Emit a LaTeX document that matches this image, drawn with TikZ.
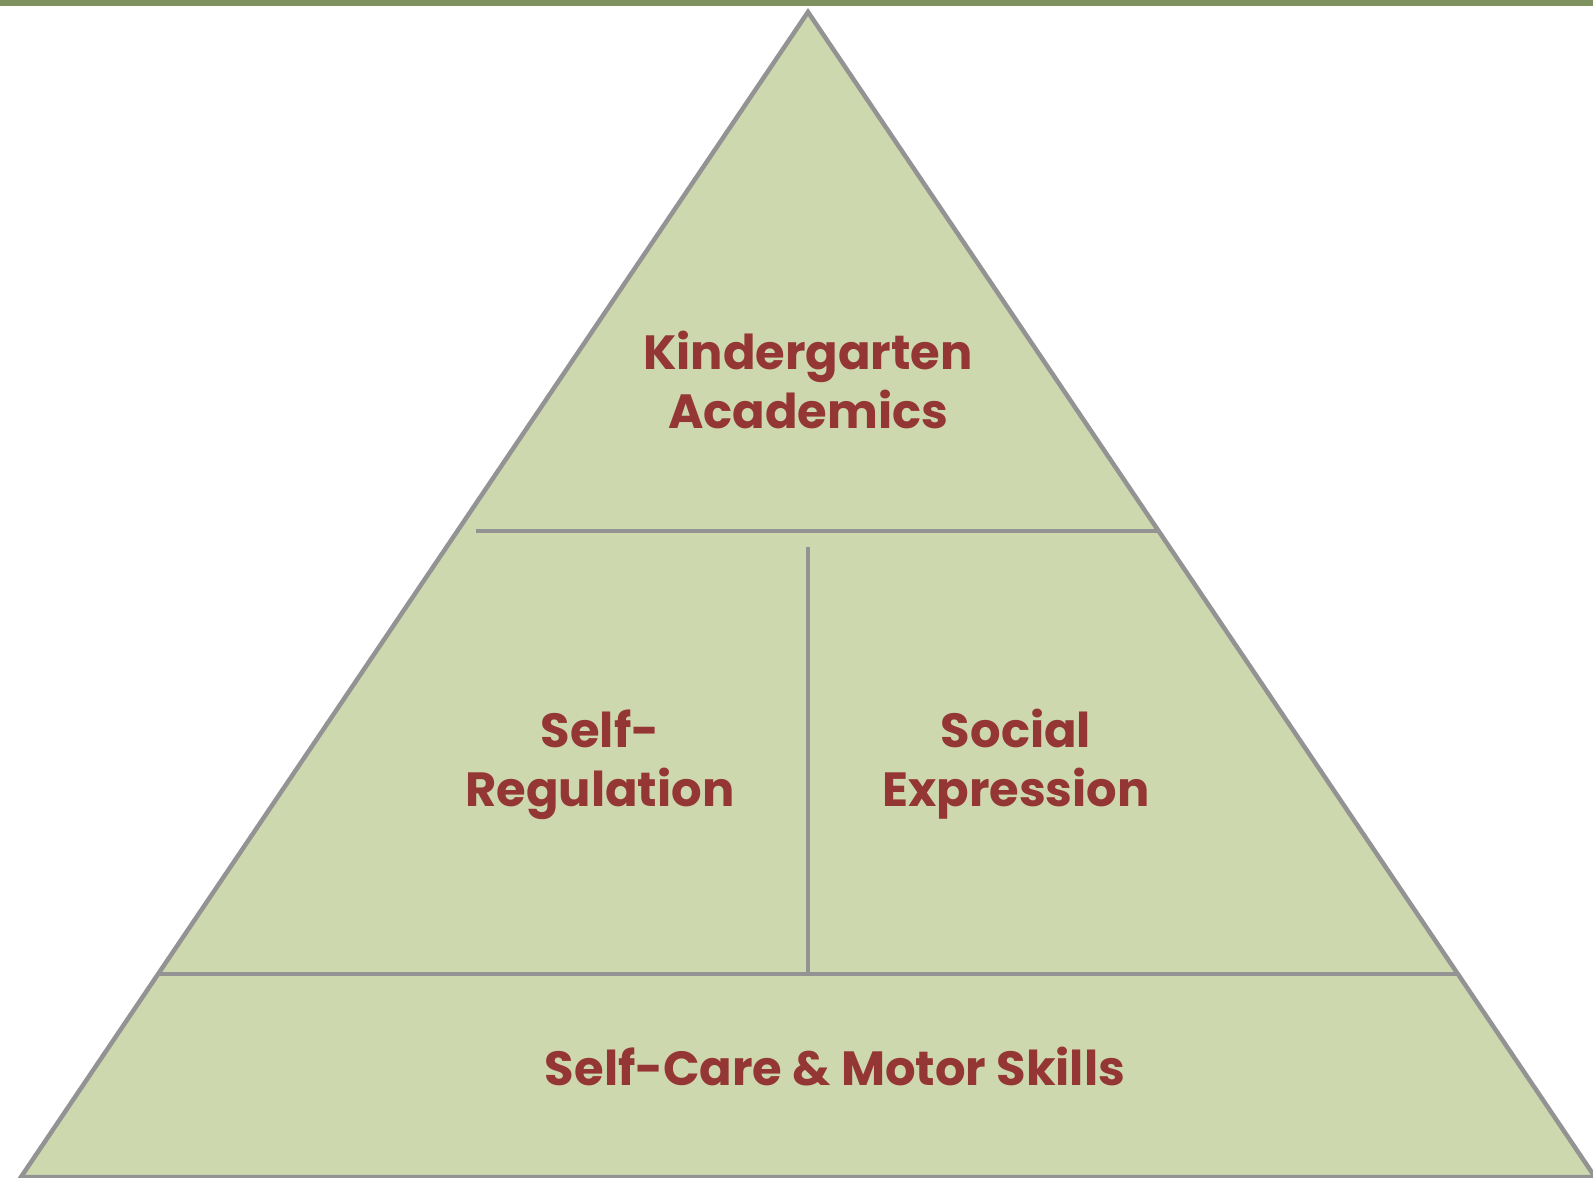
\documentclass[tikz,border=0pt]{standalone}
\usepackage{fontspec}
\setmainfont{Poppins}
\definecolor{pyrfill}{HTML}{CED8AF}
\definecolor{pyrline}{HTML}{939393}
\definecolor{pyrtext}{HTML}{943634}
\definecolor{topbar}{HTML}{7F915F}
\tikzset{
  divider/.style={draw=pyrline, line width=4.8pt},
  label/.style={text=pyrtext, font=\fontsize{48}{59}\selectfont\bfseries, align=center, inner sep=0pt, anchor=base}
}
\begin{document}
\begin{tikzpicture}[x=1pt,y=-1pt]
\useasboundingbox (0,0) rectangle (1593,1178);
\fill[topbar] (0,0) rectangle (1593,6);
\coordinate (apex) at (808,12);
\coordinate (bl) at (21,1177);
\coordinate (br) at (1595,1177);
\filldraw[fill=pyrfill, draw=pyrline, line width=4.5pt, line join=miter] (apex) -- (br) -- (bl) -- cycle;
\coordinate (h1l) at (476,531);
\coordinate (h1r) at (1157,531);
\coordinate (h2l) at (160,974);
\coordinate (h2r) at (1457,974);
\coordinate (vt) at (808,547);
\coordinate (vb) at (808,974);
\draw[divider] (h1l) -- (h1r);
\draw[divider] (h2l) -- (h2r);
\draw[divider] (vt) -- (vb);
\node[label] (ka) at (808,428) {Kindergarten\\Academics};
\node[label] (sr) at (600,806) {Self-\\Regulation};
\node[label] (se) at (1016,806) {Social\\Expression};
\node[label] (sc) at (835,1085) {Self-Care \& Motor Skills};
\end{tikzpicture}
\end{document}
